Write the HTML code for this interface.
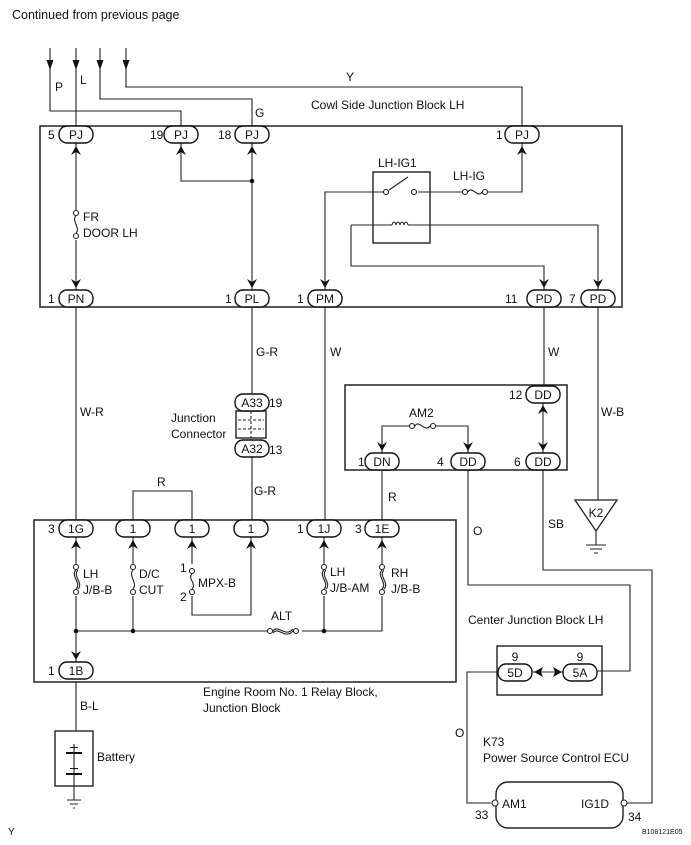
<!DOCTYPE html>
<html><head><meta charset="utf-8"><style>
html,body{margin:0;padding:0;background:#fff;}
svg{display:block;font-family:"Liberation Sans",Arial,sans-serif;}
text{font-size:12px;fill:#111;}
</style></head><body>
<svg width="691" height="845" viewBox="0 0 691 845" xmlns="http://www.w3.org/2000/svg">
<defs>
<g id="up"><path d="M-5,9 L0,0 L5,9 L0,6 Z" fill="#111"/></g>
<g id="dn"><path d="M-5,-9 L0,0 L5,-9 L0,-6 Z" fill="#111"/></g>
<g id="ah"><path d="M-3.5,-10 L0,0 L3.5,-10 Z" fill="#111"/></g>
</defs>
<g stroke="#222" stroke-width="1.1" fill="none">
<path d="M50,48 V111 H181 V126"/>
<path d="M76,48 V126"/>
<path d="M100,48 V99 H252 V126"/>
<path d="M126,48 V87 H522 V126"/>
<rect x="40" y="126" width="582" height="181" stroke-width="1.5"/>
<path d="M76,143 V290"/>
<path d="M181,143 V181 H252"/>
<path d="M252,143 V290"/>
<path d="M386,192 H325 V290"/>
<path d="M418,192 H463 M487,192 H522 V143"/>
<rect x="373" y="172" width="57" height="71" stroke-width="1.4"/>
<path d="M389,190 L408,177"/>
<path d="M351,225 H392 M408,225 H598 V290"/>
<path d="M351,225 V266 H544 V290"/>
<path d="M76,307 V520"/>
<path d="M252,307 V394"/>
<path d="M252,457 V520"/>
<path d="M325,307 V520"/>
<path d="M544,307 V386"/>
<path d="M598,307 V500"/>
<rect x="236" y="411" width="30" height="27" stroke-width="1.4"/>
<path d="M238,420 H264 M238,429 H264 M251,411 V438" stroke-dasharray="3,2"/>
<rect x="345" y="385" width="222" height="85" stroke-width="1.5"/>
<path d="M382,453 V426 H410 M434,426 H468 V453"/>
<path d="M543,403 V453"/>
<path d="M382,470 V520"/>
<path d="M468,470 V585 H630 V671 H597"/>
<path d="M543,470 V570 H652 V803 H626"/>
<path d="M575,500 H617 L596,531 Z" stroke-width="1.3"/>
<path d="M596,531 V545 M586,545 H606 M590,549 H602 M594,553 H598"/>
<rect x="34" y="520" width="422" height="162" stroke-width="1.5"/>
<path d="M133,520 V491 H192 V520"/>
<path d="M76,536 V662"/>
<path d="M133,536 V631"/>
<path d="M192,536 V615 H251 V536"/>
<path d="M324,536 V631"/>
<path d="M382,536 V631 H302 M268,631 H76"/>
<path d="M76,682 V731"/>
<rect x="55" y="731" width="38" height="55" stroke-width="1.4"/>
<path d="M74,744 V790 M74,786 V800 M67,800 H81 M70,804 H78 M73,808 H75"/>
<rect x="497" y="646" width="105" height="49" stroke-width="1.4"/>
<path d="M533,672 H563"/>
<path d="M497,672 H467 V803 H491"/>
<rect x="496" y="782" width="127" height="46" rx="12" stroke-width="1.4"/>
</g>
<g stroke="#222" stroke-width="1.1" fill="#fff">
<rect x="72" y="210" width="8" height="30" fill="#fff" stroke="none"/>
<circle cx="76" cy="213" r="2.5"/><circle cx="76" cy="236" r="2.5"/>
<path d="M76,216 C71,221 81,228 76,233" fill="none"/>
<circle cx="465" cy="192" r="2.5"/><circle cx="485" cy="192" r="2.5"/>
<path d="M468,192 C472,185 478,199 482,192" fill="none"/>
<circle cx="386" cy="192" r="2.5"/><circle cx="414" cy="192" r="2.5"/>
<path d="M392,225 c1,-4 3,-4 4,0 c1,-4 3,-4 4,0 c1,-4 3,-4 4,0 c1,-4 3,-4 4,0" fill="none"/>
<circle cx="412" cy="426" r="2.5"/><circle cx="433" cy="426" r="2.5"/>
<path d="M415,426 C419,419 425,433 430,426" fill="none"/>
<rect x="70" y="564" width="12" height="32" fill="#fff" stroke="none"/>
<circle cx="76" cy="567" r="2.5"/><circle cx="76" cy="592" r="2.5"/>
<path d="M76,570 C70,576 82,583 76,589 M78,570 C72,576 84,583 78,589" fill="none"/>
<rect x="128" y="564" width="10" height="32" fill="#fff" stroke="none"/>
<circle cx="133" cy="567" r="2.5"/><circle cx="133" cy="592" r="2.5"/>
<path d="M133,570 C128,576 138,583 133,589" fill="none"/>
<rect x="187" y="564" width="10" height="32" fill="#fff" stroke="none"/>
<circle cx="192" cy="571" r="2.5"/><circle cx="192" cy="592" r="2.5"/>
<path d="M192,574 C187,578 197,584 192,589" fill="none"/>
<rect x="318" y="564" width="12" height="32" fill="#fff" stroke="none"/>
<circle cx="324" cy="567" r="2.5"/><circle cx="324" cy="592" r="2.5"/>
<path d="M324,570 C318,576 330,583 324,589 M326,570 C320,576 332,583 326,589" fill="none"/>
<rect x="376" y="564" width="12" height="32" fill="#fff" stroke="none"/>
<circle cx="382" cy="567" r="2.5"/><circle cx="382" cy="592" r="2.5"/>
<path d="M382,570 C376,576 388,583 382,589 M384,570 C378,576 390,583 384,589" fill="none"/>
<circle cx="270" cy="631" r="2.5"/><circle cx="296" cy="631" r="2.5"/>
<path d="M273,631 C278,624 285,638 293,629 M273,633 C278,626 285,640 293,631" fill="none"/>
<circle cx="495" cy="803" r="3"/><circle cx="624" cy="803" r="3"/>
</g>
<g fill="#111">
<circle cx="252" cy="181" r="2.3"/>
<circle cx="76" cy="631" r="2.3"/><circle cx="133" cy="631" r="2.3"/><circle cx="324" cy="631" r="2.3"/>
<rect x="66" y="752" width="16" height="2"/><rect x="70" y="747" width="8" height="1"/>
<rect x="66" y="773" width="16" height="2"/><rect x="70" y="768" width="8" height="1"/>
</g>
<use href="#ah" x="50" y="70"/><use href="#ah" x="76" y="70"/><use href="#ah" x="100" y="70"/><use href="#ah" x="126" y="70"/>
<g stroke="#111" stroke-width="1.4" fill="#fff">
<rect x="59" y="126" width="34" height="17" rx="8"/>
<rect x="164" y="126" width="34" height="17" rx="8"/>
<rect x="235" y="126" width="34" height="17" rx="8"/>
<rect x="505" y="126" width="34" height="17" rx="8"/>
<rect x="59" y="290" width="34" height="17" rx="8"/>
<rect x="235" y="290" width="34" height="17" rx="8"/>
<rect x="308" y="290" width="34" height="17" rx="8"/>
<rect x="527" y="290" width="34" height="17" rx="8"/>
<rect x="581" y="290" width="34" height="17" rx="8"/>
<rect x="235" y="394" width="34" height="17" rx="8"/>
<rect x="235" y="440" width="34" height="17" rx="8"/>
<rect x="526" y="386" width="34" height="17" rx="8"/>
<rect x="365" y="453" width="34" height="17" rx="8"/>
<rect x="451" y="453" width="34" height="17" rx="8"/>
<rect x="526" y="453" width="34" height="17" rx="8"/>
<rect x="59" y="520" width="34" height="17" rx="8"/>
<rect x="116" y="520" width="34" height="17" rx="8"/>
<rect x="175" y="520" width="34" height="17" rx="8"/>
<rect x="234" y="520" width="34" height="17" rx="8"/>
<rect x="307" y="520" width="34" height="17" rx="8"/>
<rect x="365" y="520" width="34" height="17" rx="8"/>
<rect x="59" y="662" width="34" height="17" rx="8"/>
<rect x="498" y="664" width="34" height="17" rx="8"/>
<rect x="563" y="664" width="34" height="17" rx="8"/>
</g>
<use href="#up" x="76" y="146"/><use href="#up" x="181" y="146"/><use href="#up" x="252" y="146"/><use href="#up" x="522" y="146"/>
<use href="#dn" x="76" y="288"/><use href="#dn" x="252" y="288"/><use href="#dn" x="325" y="288"/><use href="#dn" x="544" y="288"/><use href="#dn" x="598" y="288"/>
<use href="#up" x="543" y="405"/><use href="#dn" x="543" y="451"/><use href="#dn" x="382" y="451"/><use href="#dn" x="468" y="451"/>
<use href="#up" x="76" y="540"/><use href="#up" x="133" y="540"/><use href="#up" x="192" y="540"/><use href="#up" x="251" y="540"/><use href="#up" x="324" y="540"/><use href="#up" x="382" y="540"/>
<use href="#dn" x="76" y="660"/>
<path d="M534,672 L543,667 L541,672 L543,677 Z M562,672 L553,667 L555,672 L553,677 Z" fill="#111"/>
<g text-anchor="middle" font-size="12">
<text x="76" y="139">PJ</text><text x="181" y="139">PJ</text><text x="252" y="139">PJ</text><text x="522" y="139">PJ</text>
<text x="76" y="303">PN</text><text x="252" y="303">PL</text><text x="325" y="303">PM</text><text x="544" y="303">PD</text><text x="598" y="303">PD</text>
<text x="252" y="407">A33</text><text x="252" y="453">A32</text>
<text x="543" y="399">DD</text><text x="382" y="466">DN</text><text x="468" y="466">DD</text><text x="543" y="466">DD</text>
<text x="76" y="533">1G</text><text x="133" y="533">1</text><text x="192" y="533">1</text><text x="251" y="533">1</text><text x="324" y="533">1J</text><text x="382" y="533">1E</text>
<text x="76" y="675">1B</text><text x="515" y="677">5D</text><text x="580" y="677">5A</text>
<text x="515" y="661">9</text><text x="580" y="661">9</text>
</g>
<text x="12" y="19" style="font-size:12.5px">Continued from previous page</text>
<text x="55" y="91">P</text><text x="80" y="84">L</text><text x="255" y="117">G</text><text x="346" y="81">Y</text>
<text x="311" y="109">Cowl Side Junction Block LH</text>
<text x="48" y="139">5</text><text x="150" y="139">19</text><text x="218" y="139">18</text><text x="496" y="139">1</text>
<text x="83" y="221">FR</text><text x="83" y="237">DOOR LH</text>
<text x="378" y="167">LH-IG1</text><text x="453" y="180">LH-IG</text>
<text x="48" y="303">1</text><text x="225" y="303">1</text><text x="297" y="303">1</text><text x="505" y="303">11</text><text x="569" y="303">7</text>
<text x="80" y="416">W-R</text><text x="256" y="356">G-R</text><text x="330" y="356">W</text><text x="548" y="356">W</text><text x="601" y="416">W-B</text>
<text x="171" y="422">Junction</text><text x="171" y="438">Connector</text>
<text x="269" y="407">19</text><text x="269" y="454">13</text>
<text x="409" y="417">AM2</text>
<text x="509" y="399">12</text>
<text x="358" y="466">1</text><text x="437" y="466">4</text><text x="514" y="466">6</text>
<text x="388" y="501">R</text><text x="473" y="535">O</text><text x="548" y="528">SB</text>
<text x="596" y="517" text-anchor="middle">K2</text>
<text x="157" y="486">R</text><text x="254" y="495">G-R</text>
<text x="48" y="533">3</text><text x="297" y="533">1</text><text x="355" y="533">3</text>
<text x="83" y="578">LH</text><text x="83" y="594">J/B-B</text>
<text x="139" y="578">D/C</text><text x="139" y="594">CUT</text>
<text x="180" y="572">1</text><text x="180" y="601">2</text><text x="198" y="587">MPX-B</text>
<text x="330" y="576">LH</text><text x="330" y="592">J/B-AM</text>
<text x="391" y="577">RH</text><text x="391" y="593">J/B-B</text>
<text x="271" y="620">ALT</text>
<text x="48" y="675">1</text>
<text x="203" y="696">Engine Room No. 1 Relay Block,</text><text x="203" y="712">Junction Block</text>
<text x="80" y="710">B-L</text>
<text x="97" y="761">Battery</text>
<text x="468" y="624">Center Junction Block LH</text>
<text x="455" y="737">O</text>
<text x="483" y="746">K73</text><text x="483" y="762">Power Source Control ECU</text>
<text x="502" y="808">AM1</text><text x="581" y="808">IG1D</text>
<text x="475" y="819">33</text><text x="628" y="821">34</text>
<text x="642" y="834" style="font-size:7px">B108121E05</text>
<text x="8" y="835" style="font-size:10px">Y</text>
</svg>
</body></html>
